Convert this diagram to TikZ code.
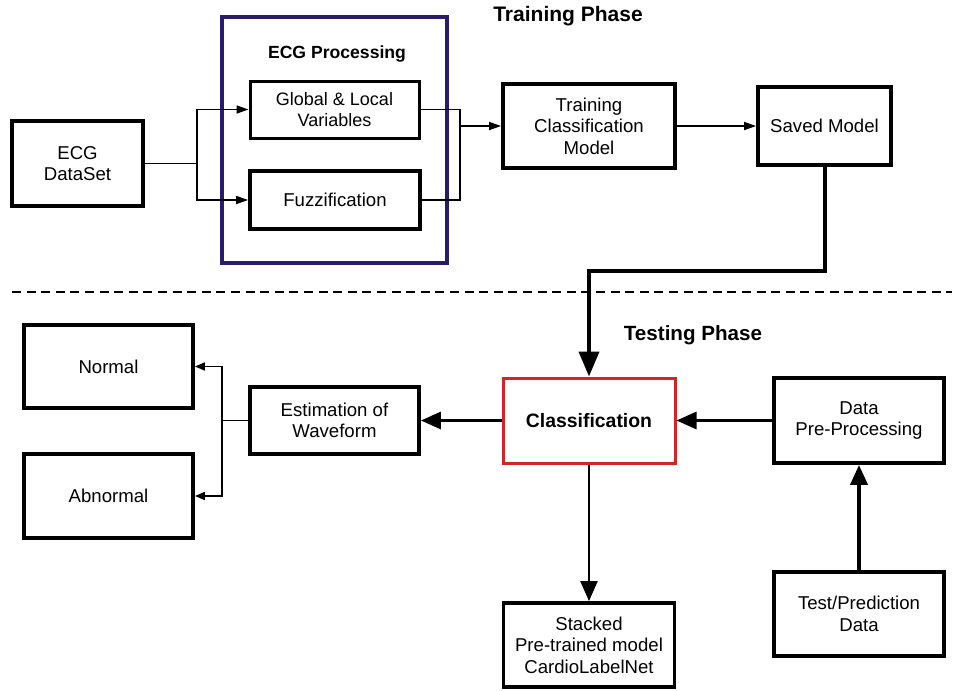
\documentclass[tikz,border=0pt]{standalone}
\usepackage{fontspec}
\setmainfont{Liberation Sans}
\usetikzlibrary{arrows.meta}
\definecolor{frameblue}{RGB}{43,27,112}
\definecolor{framered}{RGB}{212,36,36}
\begin{document}
\begin{tikzpicture}[x=0.5pt,y=-0.5pt,
  every node/.style={font=\fontsize{9.3}{10.8}\selectfont, align=center, inner sep=0pt},
  blk/.style={draw=black, line width=1.9pt, rectangle},
  title/.style={font=\bfseries\fontsize{10.3}{12}\selectfont},
  thinline/.style={line width=0.85pt},
  smallhead/.style={thinline, -{Triangle[length=6pt,width=4pt]}},
  bighead/.style={line width=1.5pt, -{Triangle[length=10pt,width=8.5pt]}},
  hugehead/.style={line width=2pt, -{Triangle[length=12.5pt,width=10pt]}}
]
\useasboundingbox (0,0) rectangle (955,691);

% ---- training phase ----
\node[title, font=\bfseries\fontsize{10.5}{12}\selectfont] (trainlbl) at (568,16) {Training Phase};

\node[draw=frameblue, line width=1.6pt, minimum width=112.5pt, minimum height=123pt] (proc) at (334.5,140) {};
\node[title, font=\bfseries\fontsize{8.8}{10}\selectfont] (proclbl) at (337,54) {ECG Processing};

\node[blk, minimum width=65.5pt, minimum height=42.5pt] (ds) at (77.5,163.5) {ECG\\DataSet};
\node[blk, line width=1.5pt, minimum width=84.5pt, minimum height=28.5pt, font=\fontsize{9}{10.6}\selectfont] (glv) at (334.5,109.5) {Global \& Local\\Variables};
\node[blk, minimum width=85pt, minimum height=29pt] (fuz) at (335,200) {Fuzzification};
\node[blk, minimum width=86pt, minimum height=42pt] (tcm) at (589,126) {Training\\Classification\\Model};
\node[blk, minimum width=66.5pt, minimum height=39pt] (sm) at (824.5,126) {Saved Model};

\coordinate (j1) at (197,163.5);
\coordinate (j2) at (460,126);
\draw[thinline] (ds.east) -- (j1);
\draw[smallhead] (j1) |- (glv.west);
\draw[smallhead] (j1) |- (fuz.west);
\draw[thinline] (glv.east) -| (j2);
\draw[thinline] (fuz.east) -| (j2);
\draw[smallhead] (j2) -- (tcm.west);
\draw[smallhead] (tcm.east) -- (sm.west);

% ---- phase separator ----
\coordinate (sepl) at (12,292);
\coordinate (sepr) at (952,292);
\draw[line width=1pt, dash pattern=on 4.5pt off 2.8pt] (sepl) -- (sepr);

% ---- testing phase ----
\node[title] (testlbl) at (693,335) {Testing Phase};

\node[draw=framered, line width=1.5pt, minimum width=86pt, minimum height=42.5pt,
      font=\bfseries\fontsize{9.7}{12}\selectfont] (cls) at (589,420.5) {Classification};
\node[blk, minimum width=85pt, minimum height=42.5pt] (dpp) at (859,420.5) {Data\\Pre-Processing};
\node[blk, minimum width=85pt, minimum height=42pt] (tpd) at (859,614) {Test/Prediction\\Data};
\node[blk, minimum width=85.5pt, minimum height=42pt] (stk) at (589,645) {Stacked\\Pre-trained model\\CardioLabelNet};
\node[blk, minimum width=84.5pt, minimum height=33.5pt] (est) at (334.5,420.5) {Estimation of\\Waveform};
\node[blk, minimum width=84.5pt, minimum height=41.5pt] (nor) at (108.5,366.5) {Normal};
\node[blk, minimum width=84.5pt, minimum height=42pt] (abn) at (108.5,496) {Abnormal};

\coordinate (k) at (589,271);
\draw[hugehead] (sm.south) |- (k) -- (cls.north);
\draw[bighead] (cls.west) -- (est.east);
\draw[bighead] (dpp.west) -- (cls.east);
\draw[bighead, line width=1.9pt] (tpd.north) -- (dpp.south);
\draw[bighead, line width=1.1pt] (cls.south) -- (stk.north);

\coordinate (j3) at (222,420.5);
\draw[thinline] (est.west) -- (j3);
\draw[smallhead, -{Triangle[length=5pt,width=4pt]}] (j3) |- (nor.east);
\draw[smallhead, -{Triangle[length=5pt,width=4pt]}] (j3) |- (abn.east);
\end{tikzpicture}
\end{document}
